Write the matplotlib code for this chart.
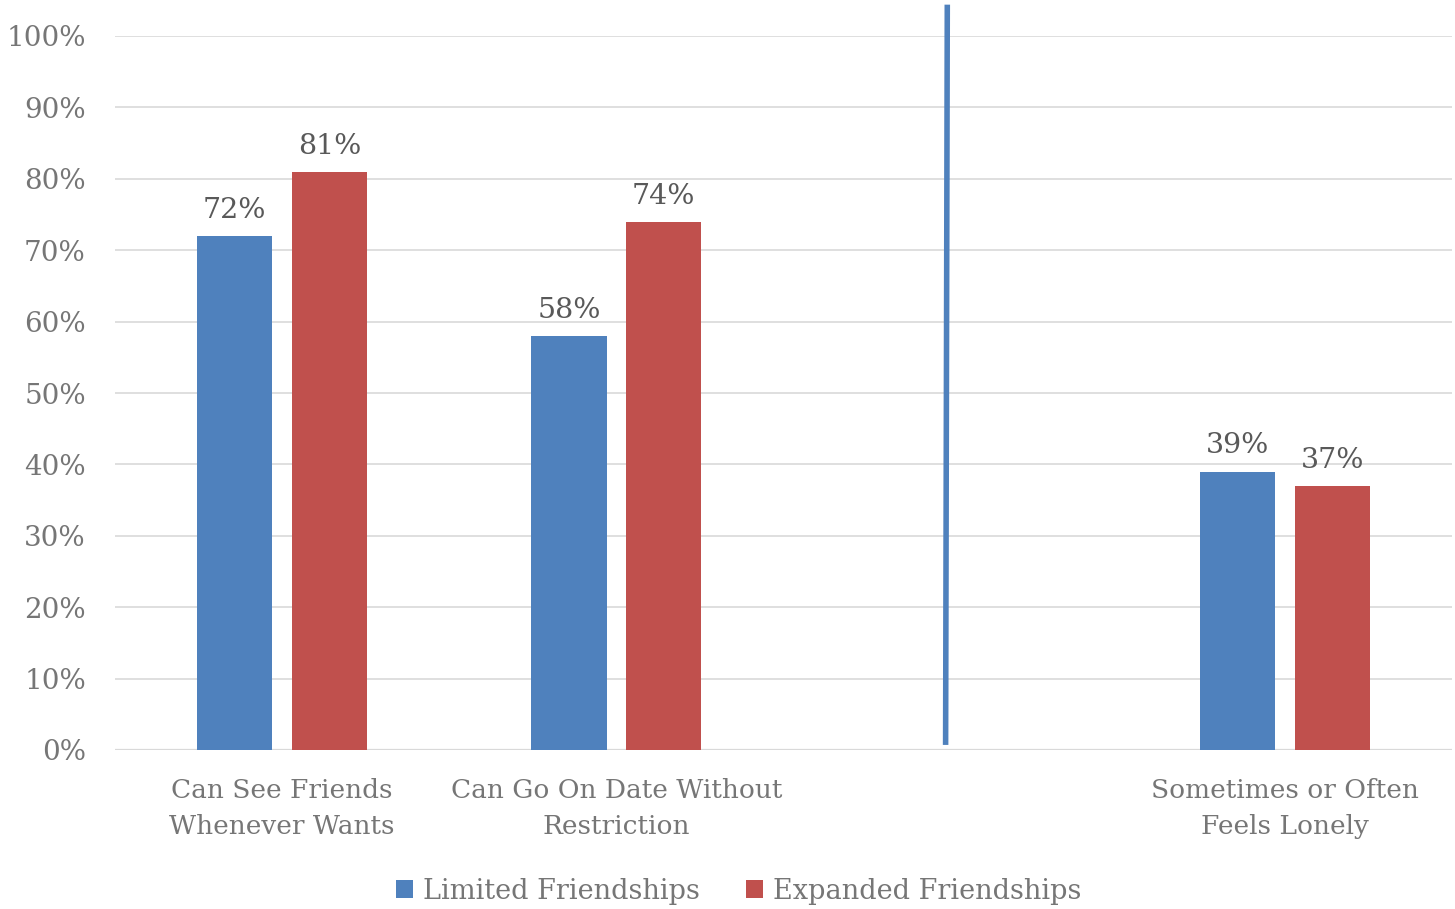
import numpy as np
import matplotlib.pyplot as plt
from matplotlib.lines import Line2D

categories = ['Can See Friends\nWhenever Wants',
              'Can Go On Date Without\nRestriction',
              '',
              'Sometimes or Often\nFeels Lonely']
limited = [0.72, 0.58, None, 0.39]
expanded = [0.81, 0.74, None, 0.37]
series_names = ['Limited Friendships', 'Expanded Friendships']

BLUE = '#4F81BD'
RED = '#C0504D'
GRAY = '#767676'

plt.rcParams['font.family'] = ['DejaVu Serif']

fig = plt.figure(figsize=(14.55, 9.09), dpi=100)
ax = fig.add_axes([115 / 1455, 1 - 750 / 909, 1337 / 1455, 714 / 909])

x = np.arange(len(categories))
width = 0.225
offset = 0.142

for vals, off, color, name in [(limited, -offset, BLUE, series_names[0]),
                               (expanded, offset, RED, series_names[1])]:
    xs = [xi + off for xi, v in zip(x, vals) if v is not None]
    ys = [v for v in vals if v is not None]
    bars = ax.bar(xs, ys, width, color=color, label=name, zorder=3)
    for b, v in zip(bars, ys):
        ax.text(b.get_x() + b.get_width() / 2, v + 0.017, f'{v:.0%}',
                ha='center', va='bottom', fontsize=20.5, color='#595959')

ax.set_xlim(-0.5, len(categories) - 0.5)
ax.set_ylim(0, 1.0)
ax.set_yticks(np.arange(0, 1.01, 0.1))
ax.set_yticklabels([f'{t:.0%}' for t in np.arange(0, 1.01, 0.1)], fontsize=20)
ax.set_xticks(x)
ax.set_xticklabels(categories, linespacing=1.55, fontsize=19)

ax.grid(axis='y', color='#DCDCDC', linewidth=1.3, zorder=0)
ax.axhline(0, color='#D9D9D9', linewidth=1.6, zorder=2)
for s in ax.spines.values():
    s.set_visible(False)
ax.tick_params(axis='both', length=0, colors=GRAY)
ax.tick_params(axis='x', pad=20)
ax.tick_params(axis='y', pad=21)

# divider between the two groups of questions
ax.add_line(Line2D([1.99, 1.985], [1.04, 0.011], color=BLUE, linewidth=4,
                   clip_on=False, zorder=4))

leg = fig.legend(loc='lower center', bbox_to_anchor=(0.508, -0.022), ncol=2,
                 frameon=False, fontsize=19.5, handlelength=0.6, handleheight=0.6,
                 handletextpad=0.4, columnspacing=1.7)
for t in leg.get_texts():
    t.set_color(GRAY)

fig.savefig('out.png', dpi=100)
